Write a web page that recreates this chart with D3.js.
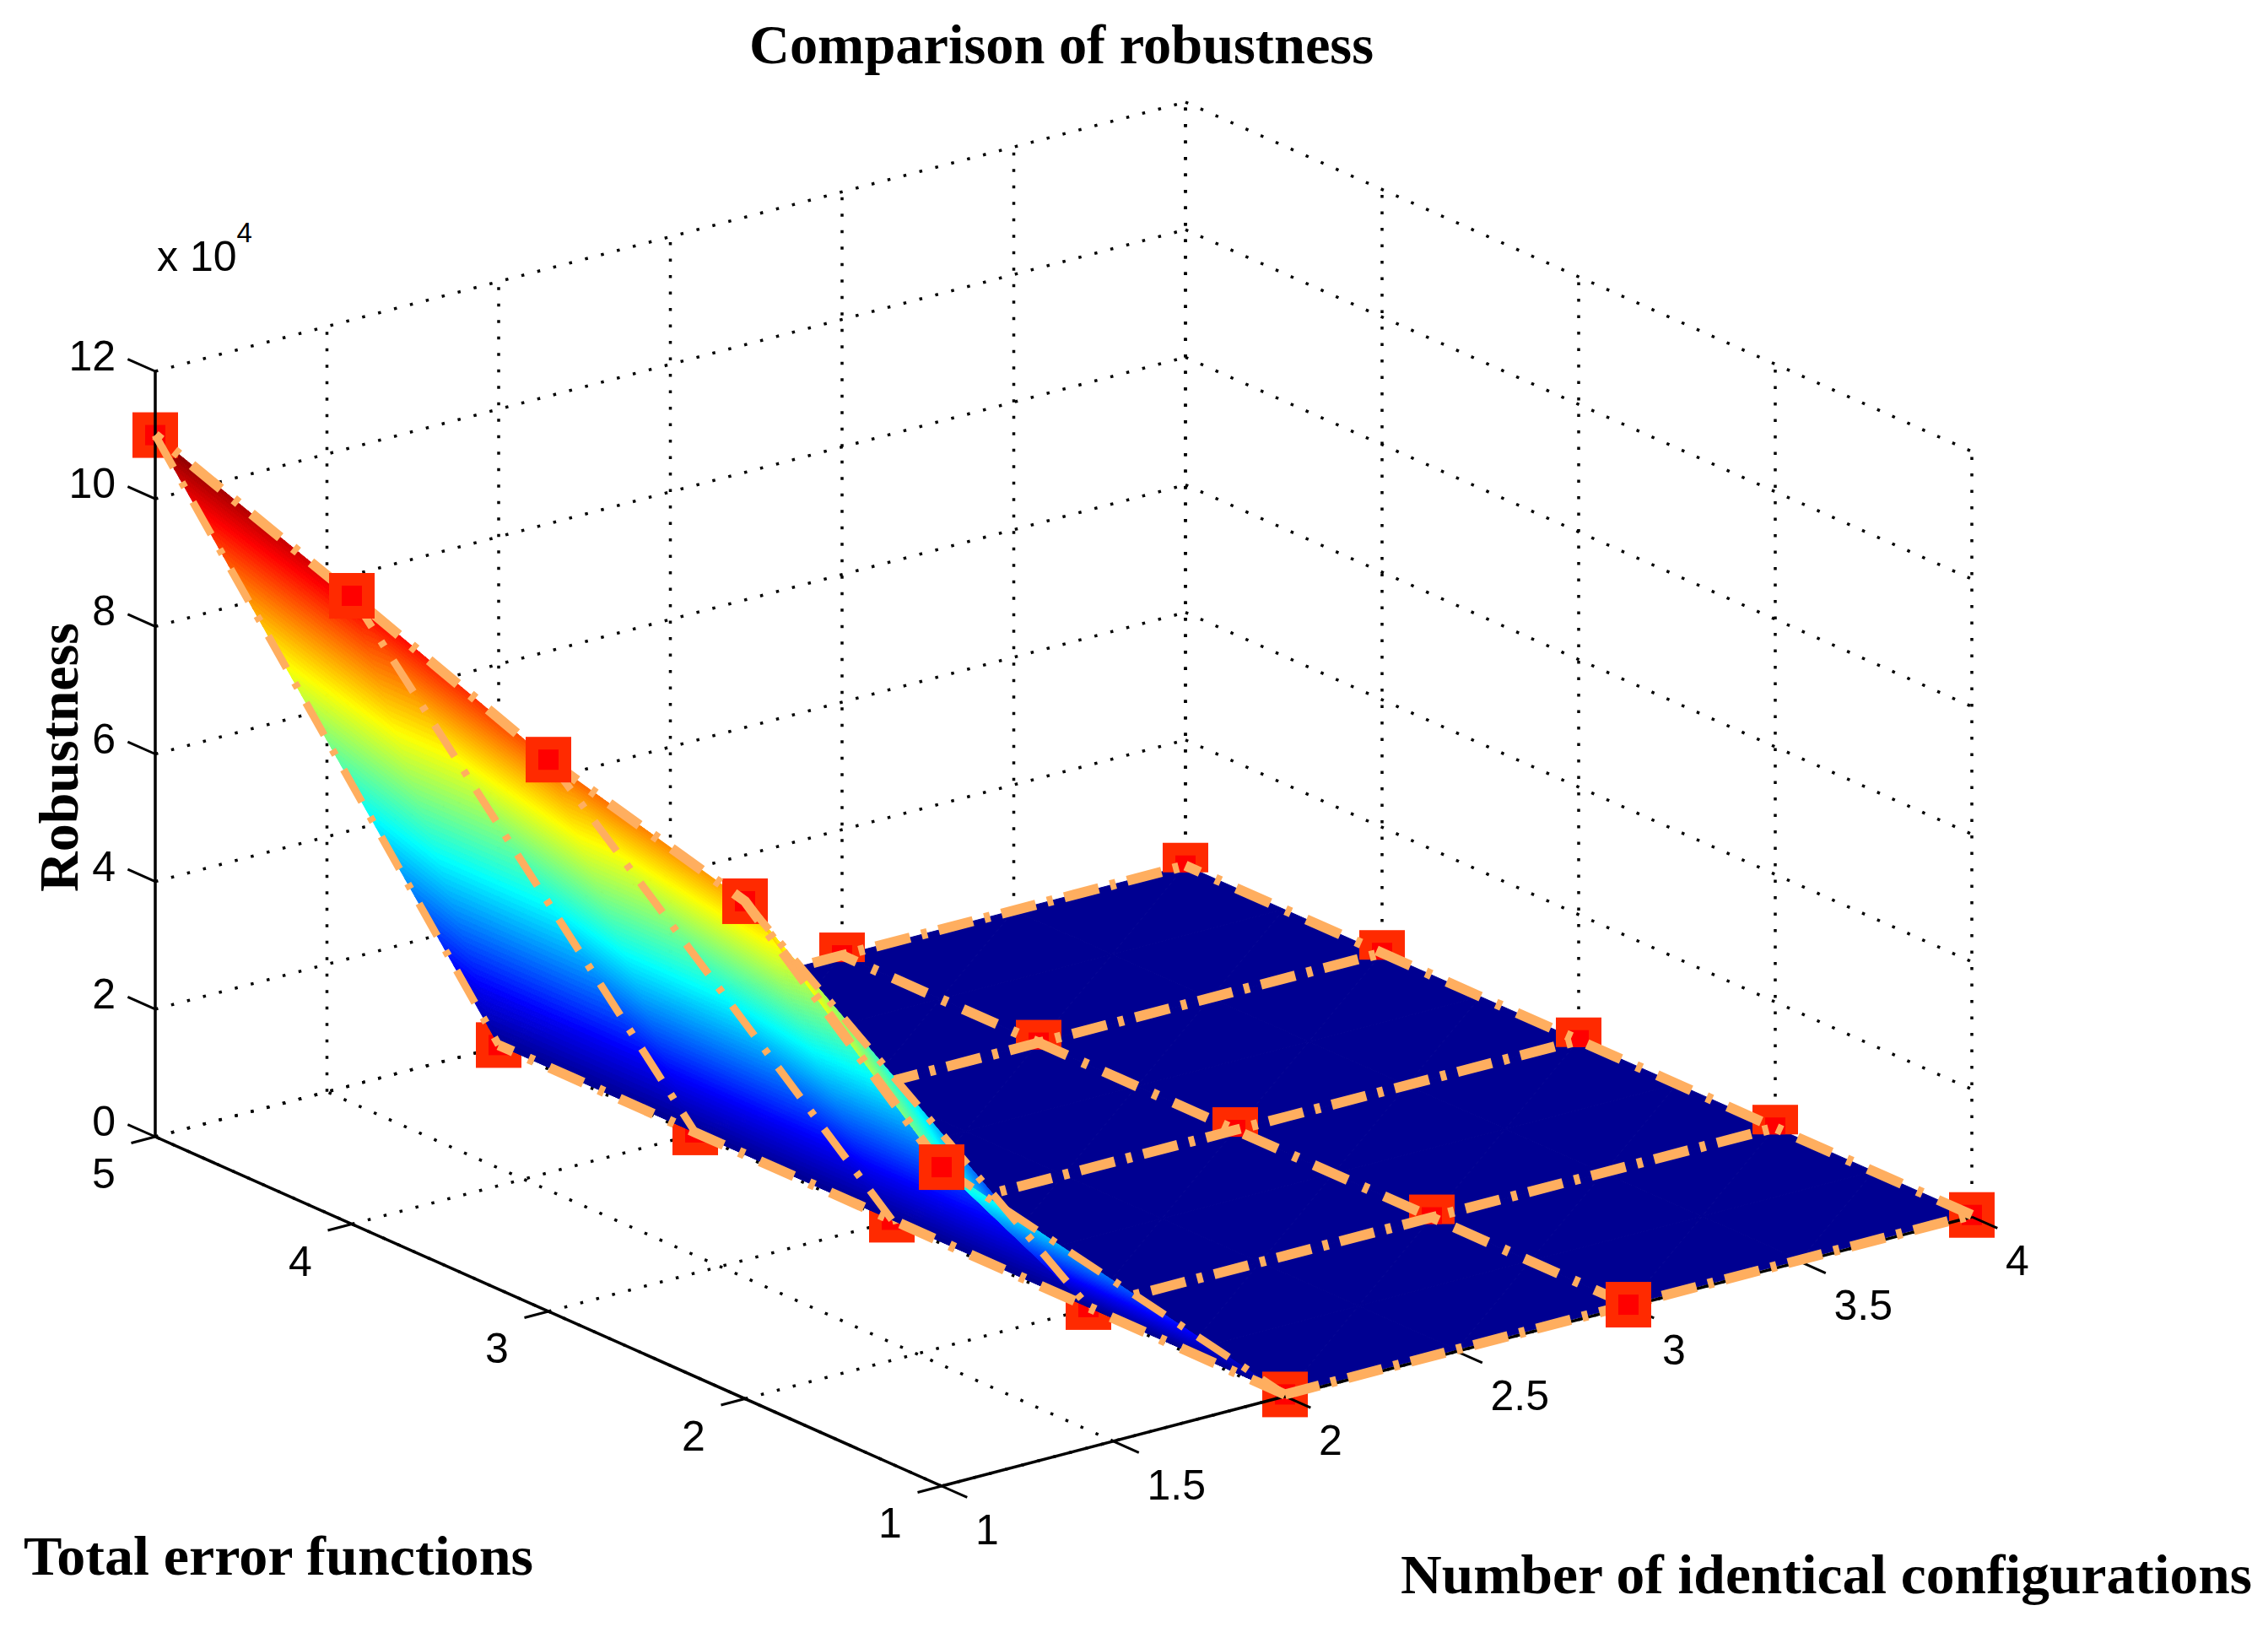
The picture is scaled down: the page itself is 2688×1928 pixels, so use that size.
<!DOCTYPE html>
<html>
<head>
<meta charset="utf-8">
<style>
  html, body { margin: 0; padding: 0; background: #fff; }
  svg { display: block; }
  .tick-label { font-family: "Liberation Sans", sans-serif; font-size: 50px; fill: #000; }
  .axis-title { font-family: "Liberation Serif", serif; font-weight: bold; font-size: 65px; fill: #000; }
</style>
</head>
<body>
<script src="https://cdn.jsdelivr.net/npm/d3@7"></script>
<script>
var width = 2688,
    height = 1928;

// grid of the surface
var configs = [1, 2, 3, 4];
var errorFunctions = [1, 2, 3, 4, 5];

// robustness in units of 10^4, one list per number of configurations, y = 1..5
var robustness1 = [5.0, 7.8, 8.65, 9.85, 11.0];
var robustness2 = [0.03, 0.03, 0.03, 0.03, 0.03];
var robustness3 = [0.03, 0.03, 0.03, 0.03, 0.03];
var robustness4 = [0.03, 0.03, 0.03, 0.03, 0.03];
var robustness = [robustness1, robustness2, robustness3, robustness4];

// tick labels
var xTicks = [1, 1.5, 2, 2.5, 3, 3.5, 4];
var yTicks = [1, 2, 3, 4, 5];
var zTicks = [0, 2, 4, 6, 8, 10, 12];

var lineOrange = '#ffae5f';
var markerOuter = '#ff2a00';
var markerInner = '#ff0000';

var svg = d3.select('body').append('svg')
    .attr('width', width)
    .attr('height', height);

svg.append('rect').attr('width', width).attr('height', height).attr('fill', '#fff');

// the 3D box is an orthographic view, so each data axis only adds a screen offset
var originX = 1116,
    originY = 1761;
var xToPx = d3.scaleLinear().domain([1, 4]).range([0, 1221]),
    xToPy = d3.scaleLinear().domain([1, 4]).range([0, -319]),
    yToPx = d3.scaleLinear().domain([1, 5]).range([0, -932]),
    yToPy = d3.scaleLinear().domain([1, 5]).range([0, -414]),
    zToPy = d3.scaleLinear().domain([0, 12]).range([0, -907]);

function project(x, y, z) {
  return [originX + xToPx(x) + yToPx(y), originY + xToPy(x) + yToPy(y) + zToPy(z)];
}

var line3d = d3.line();
function path3d(points) {
  return line3d(points.map(function(p) { return project(p[0], p[1], p[2]); }));
}

// jet colormap over the data range
var zMax = d3.max(robustness1);
var jet = d3.scaleLinear()
    .domain([0, 0.11, 0.125, 0.375, 0.625, 0.875, 1].map(function(t) { return t * zMax; }))
    .range(['#00008f', '#0000ef', '#0000ff', '#00ffff', '#ffff00', '#ff0000', '#800000']);

// ---- dotted grid on the two back walls and the floor ----
var gridLines = [];
xTicks.forEach(function(x) {
  gridLines.push([[x, 1, 0], [x, 5, 0]]);
  if (x > 1) gridLines.push([[x, 5, 0], [x, 5, 12]]);
});
yTicks.forEach(function(y) {
  gridLines.push([[1, y, 0], [4, y, 0]]);
  gridLines.push([[4, y, 0], [4, y, 12]]);
});
zTicks.forEach(function(z) {
  gridLines.push([[1, 5, z], [4, 5, z]]);
  gridLines.push([[4, 5, z], [4, 1, z]]);
});

svg.append('g').attr('class', 'grid')
  .selectAll('path')
  .data(gridLines)
  .enter().append('path')
    .attr('d', path3d)
    .attr('fill', 'none')
    .attr('stroke', '#000')
    .attr('stroke-width', 3.5)
    .attr('stroke-dasharray', '3.5 16');

// all markers with their position
var markers = [];
configs.forEach(function(x, i) {
  errorFunctions.forEach(function(y, j) {
    markers.push({ x: x, y: y, z: robustness[i][j] });
  });
});

function drawMarkers(list, visibleHeight) {
  var g = svg.append('g').attr('class', 'markers');
  g.selectAll('rect.outer')
    .data(list)
    .enter().append('rect')
      .attr('class', 'outer')
      .attr('x', function(d) { return project(d.x, d.y, d.z)[0] - 27; })
      .attr('y', function(d) { return project(d.x, d.y, d.z)[1] - 27; })
      .attr('width', 54)
      .attr('height', visibleHeight)
      .attr('fill', markerOuter);
  g.selectAll('rect.inner')
    .data(list)
    .enter().append('rect')
      .attr('class', 'inner')
      .attr('x', function(d) { return project(d.x, d.y, d.z)[0] - 12; })
      .attr('y', function(d) { return project(d.x, d.y, d.z)[1] - 12; })
      .attr('width', 24)
      .attr('height', Math.min(24, visibleHeight - 15))
      .attr('fill', markerInner);
}

// dash-dot line helper, the pattern is a bit longer than on the flat rows
function drawDashes(list, strokeWidth, dash) {
  svg.append('g').attr('class', 'dash-lines')
    .selectAll('path')
    .data(list)
    .enter().append('path')
      .attr('d', path3d)
      .attr('fill', 'none')
      .attr('stroke', lineOrange)
      .attr('stroke-width', strokeWidth)
      .attr('stroke-dasharray', dash);
}

// the x = 2 markers sit behind the surface
drawMarkers(markers.filter(function(d) { return d.x === 2 && d.y > 1; }), 54);

// ---- surface, interpolated colour on triangles ----
function makeCells(iList, steps) {
  var cells = [];
  iList.forEach(function(i) {
    d3.range(errorFunctions.length - 2, -1, -1).forEach(function(j) {
      var a = [configs[i], errorFunctions[j], robustness[i][j]],
          b = [configs[i + 1], errorFunctions[j], robustness[i + 1][j]],
          c = [configs[i + 1], errorFunctions[j + 1], robustness[i + 1][j + 1]],
          d = [configs[i], errorFunctions[j + 1], robustness[i][j + 1]];
      cells.push({ tri: [a, d, c], steps: steps });
      cells.push({ tri: [a, b, c], steps: steps });
    });
  });
  return cells;
}

function bary(tri, u, v) {
  var w = 1 - u - v;
  return [
    w * tri[0][0] + u * tri[1][0] + v * tri[2][0],
    w * tri[0][1] + u * tri[1][1] + v * tri[2][1],
    w * tri[0][2] + u * tri[1][2] + v * tri[2][2]
  ];
}

// split each triangle in small ones, each one gets a flat colour
function drawSurface(cells) {
  var facets = [];
  cells.forEach(function(cell) {
    var n = cell.steps;
    for (var s = 0; s < n; s++) {
      for (var t = 0; t < n - s; t++) {
        facets.push([bary(cell.tri, s / n, t / n), bary(cell.tri, (s + 1) / n, t / n), bary(cell.tri, s / n, (t + 1) / n)]);
        if (s + t < n - 1) {
          facets.push([bary(cell.tri, (s + 1) / n, t / n), bary(cell.tri, (s + 1) / n, (t + 1) / n), bary(cell.tri, s / n, (t + 1) / n)]);
        }
      }
    }
  });
  svg.append('g').attr('class', 'surface')
    .selectAll('path')
    .data(facets)
    .enter().append('path')
      .attr('d', function(f) { return path3d(f) + 'Z'; })
      .attr('fill', function(f) { return jet(d3.mean(f, function(p) { return p[2]; })); })
      .attr('stroke', function(f) { return jet(d3.mean(f, function(p) { return p[2]; })); })
      .attr('stroke-width', 1);
}

// flat part first, its rows run behind the raised strip
drawSurface(makeCells([2, 1], 2));
drawMarkers(markers.filter(function(d) { return d.x > 2 && d.y > 1; }), 35);

var flatRows = errorFunctions.slice(1).map(function(y, j) {
  return configs.slice(1).map(function(x, i) { return [x, y, robustness[i + 1][j + 1]]; });
});
drawDashes(flatRows, 12, '42 14 7 14');

drawSurface(makeCells([0], 70));

// these markers get partly covered by the dash-dot lines
function onTop(d) {
  return (d.x === 1 && (d.y === 1 || d.y === 3 || d.y === 4)) || (d.x === 3 && d.y === 1);
}
drawMarkers(markers.filter(function(d) {
  return (d.x === 1 || d.y === 1) && !onTop(d);
}), 54);

// ---- axes ----
var axisLines = [
  [[1, 1, 0], [4, 1, 0]],
  [[1, 1, 0], [1, 5, 0]],
  [[1, 5, 0], [1, 5, 12]]
];
svg.append('g').attr('class', 'axes')
  .selectAll('path')
  .data(axisLines)
  .enter().append('path')
    .attr('d', path3d)
    .attr('fill', 'none')
    .attr('stroke', '#000')
    .attr('stroke-width', 3.5);

// tick marks point along the other floor axes
var tickG = svg.append('g').attr('class', 'ticks');
function addTicks(list, toStart, toEnd) {
  tickG.selectAll(null)
    .data(list)
    .enter().append('path')
      .attr('d', function(d) { return path3d([toStart(d), toEnd(d)]); })
      .attr('stroke', '#000')
      .attr('stroke-width', 3);
}
addTicks(xTicks, function(x) { return [x, 1, 0]; }, function(x) { return [x, 0.87, 0]; });
addTicks(yTicks, function(y) { return [1, y, 0]; }, function(y) { return [0.93, y, 0]; });
addTicks(zTicks, function(z) { return [1, 5, z]; }, function(z) { return [1, 5.14, z]; });

// ---- remaining dash-dot lines ----
var columns = configs.map(function(x, i) {
  return errorFunctions.map(function(y, j) { return [x, y, robustness[i][j]]; });
});
var bottomRow = [configs.slice(1).map(function(x, i) { return [x, 1, robustness[i + 1][0]]; })];
var stripRows = errorFunctions.map(function(y, j) {
  return [[1, y, robustness[0][j]], [2, y, robustness[1][j]]];
});
drawDashes(columns, 12, '44 20 7 20');
drawDashes(bottomRow, 12, '42 14 7 14');
drawDashes(stripRows, 9, '44 20 7 20');

drawMarkers(markers.filter(onTop), 54);

// ---- tick labels ----
var labelG = svg.append('g').attr('class', 'labels');
labelG.selectAll('text.x')
  .data(xTicks)
  .enter().append('text')
    .attr('class', 'tick-label x')
    .attr('x', function(d) { return project(d, 1, 0)[0] + 40; })
    .attr('y', function(d) { return project(d, 1, 0)[1] + 69; })
    .text(function(d) { return d; });
labelG.selectAll('text.y')
  .data(yTicks)
  .enter().append('text')
    .attr('class', 'tick-label y')
    .attr('x', function(d) { return project(1, d, 0)[0] - 61; })
    .attr('y', function(d) { return project(1, d, 0)[1] + 61; })
    .attr('text-anchor', 'middle')
    .text(function(d) { return d; });
labelG.selectAll('text.z')
  .data(zTicks)
  .enter().append('text')
    .attr('class', 'tick-label z')
    .attr('x', function(d) { return project(1, 5, d)[0] - 47; })
    .attr('y', function(d) { return project(1, 5, d)[1] - 1; })
    .attr('text-anchor', 'end')
    .text(function(d) { return d; });

// exponent above the z axis
var expo = labelG.append('text').attr('class', 'tick-label').attr('x', 186).attr('y', 321);
expo.append('tspan').text('x 10');
expo.append('tspan').attr('font-size', 33).attr('dy', -34).text('4');

// ---- titles ----
svg.append('text').attr('class', 'axis-title')
    .attr('x', 888).attr('y', 75)
    .attr('textLength', 740).attr('lengthAdjust', 'spacingAndGlyphs')
    .text('Comparison of robustness');
svg.append('text').attr('class', 'axis-title')
    .attr('x', 28).attr('y', 1866)
    .attr('textLength', 604).attr('lengthAdjust', 'spacingAndGlyphs')
    .text('Total error functions');
svg.append('text').attr('class', 'axis-title')
    .attr('x', 1660).attr('y', 1888)
    .attr('textLength', 1009).attr('lengthAdjust', 'spacingAndGlyphs')
    .text('Number of identical configurations');
svg.append('text').attr('class', 'axis-title')
    .attr('transform', 'translate(92,1057) rotate(-90)')
    .attr('textLength', 319).attr('lengthAdjust', 'spacingAndGlyphs')
    .text('Robustness');
</script>
</body>
</html>
